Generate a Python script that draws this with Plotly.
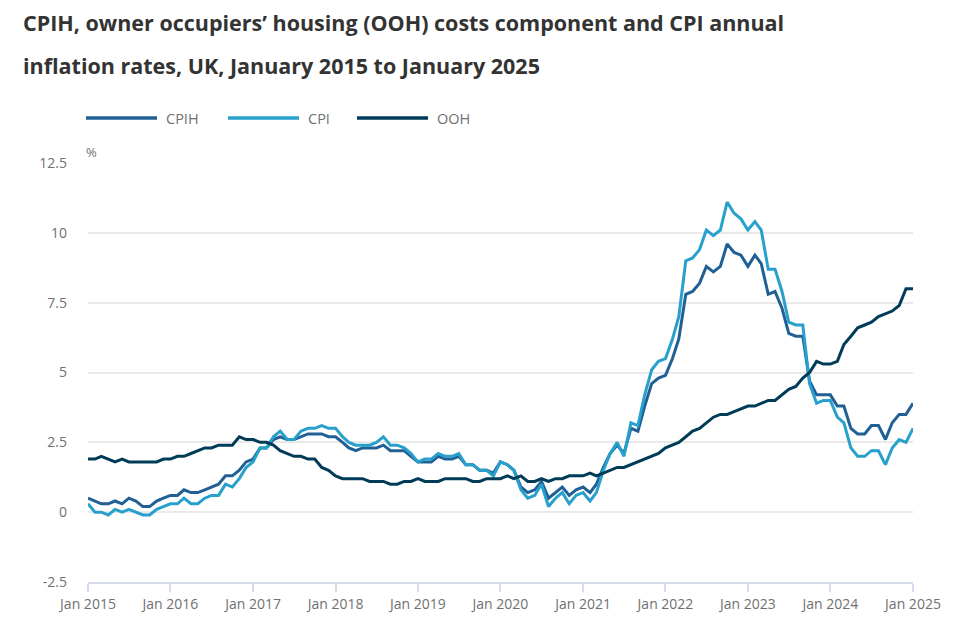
import pandas as pd
import plotly.graph_objects as go

# monthly annual rates, Jan 2015 - Jan 2025 (%)
months = pd.date_range("2015-01-01", "2025-01-01", freq="MS")

cpih = [
    0.5, 0.4, 0.3, 0.3, 0.4, 0.3, 0.5, 0.4, 0.2, 0.2, 0.4, 0.5,
    0.6, 0.6, 0.8, 0.7, 0.7, 0.8, 0.9, 1.0, 1.3, 1.3, 1.5, 1.8,
    1.9, 2.3, 2.3, 2.6, 2.7, 2.6, 2.6, 2.7, 2.8, 2.8, 2.8, 2.7,
    2.7, 2.5, 2.3, 2.2, 2.3, 2.3, 2.3, 2.4, 2.2, 2.2, 2.2, 2.0,
    1.8, 1.8, 1.8, 2.0, 1.9, 1.9, 2.0, 1.7, 1.7, 1.5, 1.5, 1.4,
    1.8, 1.7, 1.5, 0.9, 0.7, 0.8, 1.1, 0.5, 0.7, 0.9, 0.6, 0.8,
    0.9, 0.7, 1.0, 1.6, 2.1, 2.4, 2.1, 3.0, 2.9, 3.8, 4.6, 4.8,
    4.9, 5.5, 6.2, 7.8, 7.9, 8.2, 8.8, 8.6, 8.8, 9.6, 9.3, 9.2,
    8.8, 9.2, 8.9, 7.8, 7.9, 7.3, 6.4, 6.3, 6.3, 4.7, 4.2, 4.2,
    4.2, 3.8, 3.8, 3.0, 2.8, 2.8, 3.1, 3.1, 2.6, 3.2, 3.5, 3.5,
    3.9,
]

cpi = [
    0.3, 0.0, 0.0, -0.1, 0.1, 0.0, 0.1, 0.0, -0.1, -0.1, 0.1, 0.2,
    0.3, 0.3, 0.5, 0.3, 0.3, 0.5, 0.6, 0.6, 1.0, 0.9, 1.2, 1.6,
    1.8, 2.3, 2.3, 2.7, 2.9, 2.6, 2.6, 2.9, 3.0, 3.0, 3.1, 3.0,
    3.0, 2.7, 2.5, 2.4, 2.4, 2.4, 2.5, 2.7, 2.4, 2.4, 2.3, 2.1,
    1.8, 1.9, 1.9, 2.1, 2.0, 2.0, 2.1, 1.7, 1.7, 1.5, 1.5, 1.3,
    1.8, 1.7, 1.5, 0.8, 0.5, 0.6, 1.0, 0.2, 0.5, 0.7, 0.3, 0.6,
    0.7, 0.4, 0.7, 1.5, 2.1, 2.5, 2.0, 3.2, 3.1, 4.2, 5.1, 5.4,
    5.5, 6.2, 7.0, 9.0, 9.1, 9.4, 10.1, 9.9, 10.1, 11.1, 10.7, 10.5,
    10.1, 10.4, 10.1, 8.7, 8.7, 7.9, 6.8, 6.7, 6.7, 4.6, 3.9, 4.0,
    4.0, 3.4, 3.2, 2.3, 2.0, 2.0, 2.2, 2.2, 1.7, 2.3, 2.6, 2.5,
    3.0,
]

ooh = [
    1.9, 1.9, 2.0, 1.9, 1.8, 1.9, 1.8, 1.8, 1.8, 1.8, 1.8, 1.9,
    1.9, 2.0, 2.0, 2.1, 2.2, 2.3, 2.3, 2.4, 2.4, 2.4, 2.7, 2.6,
    2.6, 2.5, 2.5, 2.4, 2.2, 2.1, 2.0, 2.0, 1.9, 1.9, 1.6, 1.5,
    1.3, 1.2, 1.2, 1.2, 1.2, 1.1, 1.1, 1.1, 1.0, 1.0, 1.1, 1.1,
    1.2, 1.1, 1.1, 1.1, 1.2, 1.2, 1.2, 1.2, 1.1, 1.1, 1.2, 1.2,
    1.2, 1.3, 1.2, 1.3, 1.1, 1.1, 1.2, 1.1, 1.2, 1.2, 1.3, 1.3,
    1.3, 1.4, 1.3, 1.4, 1.5, 1.6, 1.6, 1.7, 1.8, 1.9, 2.0, 2.1,
    2.3, 2.4, 2.5, 2.7, 2.9, 3.0, 3.2, 3.4, 3.5, 3.5, 3.6, 3.7,
    3.8, 3.8, 3.9, 4.0, 4.0, 4.2, 4.4, 4.5, 4.8, 5.0, 5.4, 5.3,
    5.3, 5.4, 6.0, 6.3, 6.6, 6.7, 6.8, 7.0, 7.1, 7.2, 7.4, 8.0,
    8.0,
]

tick_dates = pd.date_range("2015-01-01", "2025-01-01", freq="YS")
tick_text = ["Jan " + str(d.year) for d in tick_dates]
y_ticks = [-2.5, 0, 2.5, 5, 7.5, 10, 12.5]
y_text = ["-2.5", "0", "2.5", "5", "7.5", "10", "12.5"]

series = [("CPIH", cpih, "#206095"), ("CPI", cpi, "#27a0cc"), ("OOH", ooh, "#003c57")]

# plot area in figure pixels (page is offset by the 8px body margin)
L, R, T, B = 80, 55, 155, 66
W, H = 960, 640
PW, PH = W - L - R, H - T - B


def px_x(x):
    return (x - 8 - L) / PW


def px_y(y):
    return (H - B - (y - 8)) / PH


fig = go.Figure()
for name, vals, col in series:
    fig.add_trace(go.Scatter(x=months, y=vals, mode="lines", name=name,
                             line=dict(color=col, width=3), showlegend=False))

fig.update_layout(
    width=W, height=H,
    paper_bgcolor="white", plot_bgcolor="white",
    font=dict(family="Open Sans", color="#707070", size=14),
    margin=dict(l=L, r=R, t=T, b=B, autoexpand=False),
)
fig.update_xaxes(
    range=[months[0], months[-1]], tickvals=list(tick_dates), ticktext=tick_text,
    showgrid=False, showline=True, linecolor="#d3dce8", linewidth=1.5,
    ticks="outside", tickcolor="#d3dce8", ticklen=8, tickwidth=1.5,
    zeroline=False, tickfont=dict(size=14, color="#707070"),
)
fig.update_yaxes(
    range=[-2.5, 12.5], tickvals=y_ticks, ticktext=y_text,
    showgrid=True, gridcolor="#e9e9e9", gridwidth=1.5, zeroline=False,
    showline=False, ticks="", ticklabelstandoff=20,
    tickfont=dict(size=14, color="#707070"),
)

# title, two lines
titles = ["CPIH, owner occupiers’ housing (OOH) costs component and CPI annual",
          "inflation rates, UK, January 2015 to January 2025"]
for txt, yy in zip(titles, [22, 65]):
    fig.add_annotation(text=txt, xref="paper", yref="paper", x=px_x(21), y=px_y(yy),
                       xanchor="left", yanchor="middle", showarrow=False,
                       font=dict(family="Open Sans", size=21.5, color="#333333", weight="bold"))

# legend drawn by hand to get the long line samples
leg_x = [86, 228, 357]
for (name, vals, col), lx in zip(series, leg_x):
    fig.add_shape(type="line", xref="paper", yref="paper",
                  x0=px_x(lx), x1=px_x(lx + 71), y0=px_y(118), y1=px_y(118),
                  line=dict(color=col, width=3.5))
    fig.add_annotation(text=name, xref="paper", yref="paper", x=px_x(lx + 78), y=px_y(118),
                       xanchor="left", yanchor="middle", showarrow=False,
                       font=dict(size=14.5, color="#707070"))

fig.add_annotation(text="%", xref="paper", yref="paper", x=px_x(84), y=px_y(152),
                   xanchor="left", yanchor="middle", showarrow=False,
                   font=dict(size=13, color="#707070"))

fig.write_html("out.html")
